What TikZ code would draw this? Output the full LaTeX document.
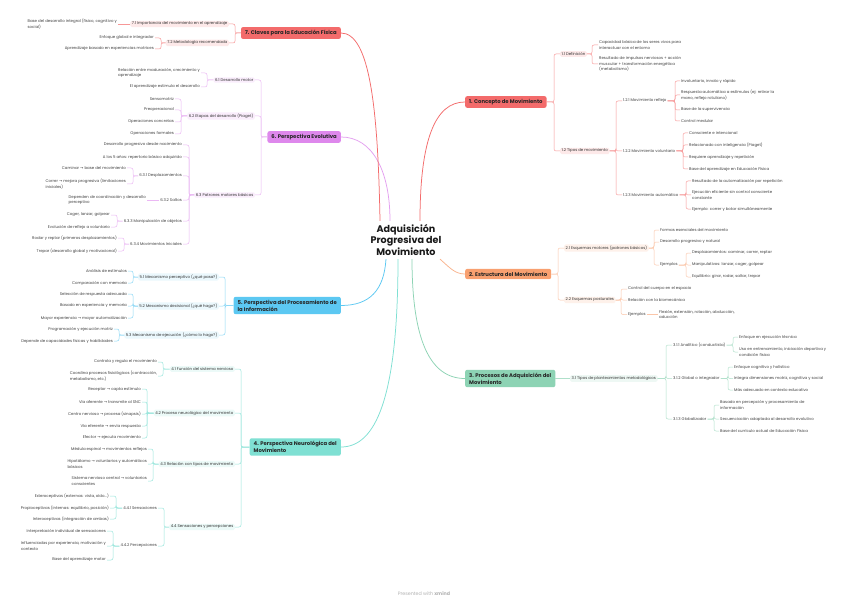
\documentclass[tikz,border=0pt]{standalone}
\usepackage{fontspec}
\setmainfont{Poppins}
\newfontfamily\arrowfont{DejaVu Sans}
\usetikzlibrary{calc}

\definecolor{cRed}{HTML}{F36B6B}
\definecolor{cOrange}{HTML}{F8A070}
\definecolor{cGreen}{HTML}{8DD3B4}
\definecolor{cTeal}{HTML}{7FE0D3}
\definecolor{cBlue}{HTML}{5CC8F2}
\definecolor{cPurple}{HTML}{DE88EC}
\newcommand{\leafsize}{\fontsize{3.9}{5.6}\selectfont}
\newcommand{\flecha}{{\arrowfont →}}

\begin{document}
\begin{tikzpicture}[
    x=1pt, y=-1pt,
    root/.style={align=center, font=\fontsize{9.6}{11.5}\selectfont\bfseries, text=black!90},
    topic/.style={rectangle, rounded corners=2pt, inner xsep=4pt, inner ysep=3pt,
                  align=left, font=\fontsize{5.3}{7}\selectfont\bfseries, text=black!85},
    subtopic/.style={rectangle, rounded corners=1.5pt, inner xsep=1.5pt, inner ysep=1.2pt,
                     font=\leafsize, text=black!80},
    leaf/.style={inner xsep=1pt, inner ysep=1pt, align=left, font=\leafsize, text=black!75},
    link/.style={line width=0.5pt, rounded corners=2pt},
    curve/.style={line width=0.75pt}
]
    \fill[white] (0,0) rectangle (848,604);
    \useasboundingbox (0,0) rectangle (848,604);

    % Central topic
    \node[root] (root) at (406,240) {Adquisición\\Progresiva del\\Movimiento};

    % Main topics
    \node[topic, fill=cRed, anchor=west]    (n1) at (465,102)   {1. Concepto de Movimiento};
    \node[topic, fill=cOrange, anchor=west] (n2) at (465,274)   {2. Estructura del Movimiento};
    \node[topic, fill=cGreen, anchor=west]  (n3) at (465,378.5) {3. Procesos de Adquisición del\\Movimiento};
    \node[topic, fill=cTeal, anchor=east]   (n4) at (341,447)   {4. Perspectiva Neurológica del\\Movimiento};
    \node[topic, fill=cBlue, anchor=east]   (n5) at (341,305.5) {5. Perspectiva del Procesamiento de\\la Información};
    \node[topic, fill=cPurple, anchor=east] (n6) at (341,137)   {6. Perspectiva Evolutiva};
    \node[topic, fill=cRed, anchor=east]    (n7) at (341,33)    {7. Claves para la Educación Física};

    % Curves from the centre
    \draw[curve, cRed]    ($(root.north)+(14,0)$)  .. controls (420,140) and (435,102) .. (n1.west);
    \draw[curve, cOrange!80] ($(root.south)+(34,0)$) .. controls (450,268) and (455,274) .. (n2.west);
    \draw[curve, cGreen]  ($(root.south)+(6,0)$)   .. controls (412,340) and (430,378.5) .. (n3.west);
    \draw[curve, cTeal]   ($(root.south)+(-8,0)$)  .. controls (398,400) and (375,447) .. (n4.east);
    \draw[curve, cBlue]   ($(root.south)+(-20,0)$) .. controls (384,290) and (370,305.5) .. (n5.east);
    \draw[curve, cPurple!80] ($(root.north)+(-16,0)$) .. controls (390,170) and (372,137) .. (n6.east);
    \draw[curve, cRed]    ($(root.north)+(-26,0)$) .. controls (378,110) and (370,33) .. (n7.east);

    % 1. Concepto de Movimiento
    \node[subtopic, fill=cRed!15, anchor=west] (n11) at (560,54)  {1.1 Definición};
    \node[subtopic, fill=cRed!15, anchor=west] (n12) at (560,151) {1.2 Tipos de movimiento};
    \node[leaf, anchor=west] (l111) at (598,45) {Capacidad básica de los seres vivos para\\interactuar con el entorno};
    \node[leaf, anchor=west] (l112) at (598,64) {Resultado de impulsos nerviosos + acción\\muscular + transformación energética\\(metabolismo)};
    \node[leaf, anchor=west] (t121) at (622,101) {1.2.1 Movimiento reflejo};
    \node[leaf, anchor=west] (t122) at (622,151) {1.2.2 Movimiento voluntario};
    \node[leaf, anchor=west] (t123) at (622,195) {1.2.3 Movimiento automático};
    \node[leaf, anchor=west] (l1211) at (680,81)  {Involuntario, innato y rápido};
    \node[leaf, anchor=west] (l1212) at (680,95)  {Respuesta automática a estímulos (ej: retirar la\\mano, reflejo rotuliano)};
    \node[leaf, anchor=west] (l1213) at (680,110) {Base de la supervivencia};
    \node[leaf, anchor=west] (l1214) at (680,121) {Control medular};
    \node[leaf, anchor=west] (l1221) at (688,133) {Consciente e intencional};
    \node[leaf, anchor=west] (l1222) at (688,145) {Relacionado con inteligencia (Piaget)};
    \node[leaf, anchor=west] (l1223) at (688,157) {Requiere aprendizaje y repetición};
    \node[leaf, anchor=west] (l1224) at (688,169) {Base del aprendizaje en Educación Física};
    \node[leaf, anchor=west] (l1231) at (691,181) {Resultado de la automatización por repetición};
    \node[leaf, anchor=west] (l1232) at (691,195) {Ejecución eficiente sin control consciente\\constante};
    \node[leaf, anchor=west] (l1233) at (691,209) {Ejemplo: correr y botar simultáneamente};

    \foreach \c in {n11,n12}
        \draw[link, cRed!70] (n1.east) -- ($(\c.west |- n1.east)+(-6,0)$) |- (\c.west);
    \foreach \c in {l111,l112}
        \draw[link, cRed!70] (n11.east) -- ($(\c.west |- n11.east)+(-6,0)$) |- (\c.west);
    \foreach \c in {t121,t122,t123}
        \draw[link, cRed!70] (n12.east) -- ($(\c.west |- n12.east)+(-6,0)$) |- (\c.west);
    \foreach \c in {l1211,l1212,l1213,l1214}
        \draw[link, cRed!70] (t121.east) -- ($(\c.west |- t121.east)+(-5,0)$) |- (\c.west);
    \foreach \c in {l1221,l1222,l1223,l1224}
        \draw[link, cRed!70] (t122.east) -- ($(\c.west |- t122.east)+(-5,0)$) |- (\c.west);
    \foreach \c in {l1231,l1232,l1233}
        \draw[link, cRed!70] (t123.east) -- ($(\c.west |- t123.east)+(-5,0)$) |- (\c.west);

    % 2. Estructura del Movimiento
    \node[subtopic, fill=cOrange!15, anchor=west] (n21) at (564,248) {2.1 Esquemas motores (patrones básicos)};
    \node[subtopic, fill=cOrange!15, anchor=west] (n22) at (564,300) {2.2 Esquemas posturales};
    \node[leaf, anchor=west] (l211) at (659,230) {Formas esenciales del movimiento};
    \node[leaf, anchor=west] (l212) at (659,242) {Desarrollo progresivo y natural};
    \node[leaf, anchor=west] (t213) at (659,265) {Ejemplos};
    \node[leaf, anchor=west] (l2131) at (691,253) {Desplazamientos: caminar, correr, reptar};
    \node[leaf, anchor=west] (l2132) at (691,265) {Manipulativos: lanzar, coger, golpear};
    \node[leaf, anchor=west] (l2133) at (691,277) {Equilibrio: girar, rodar, saltar, trepar};
    \node[leaf, anchor=west] (l221) at (627,289) {Control del cuerpo en el espacio};
    \node[leaf, anchor=west] (l222) at (627,300) {Relación con la biomecánica};
    \node[leaf, anchor=west] (t223) at (627,314.5) {Ejemplos};
    \node[leaf, anchor=west] (l2231) at (658,314.5) {Flexión, extensión, rotación, abducción,\\aducción};

    \foreach \c in {n21,n22}
        \draw[link, cOrange!60] (n2.east) -- ($(\c.west |- n2.east)+(-6,0)$) |- (\c.west);
    \foreach \c in {l211,l212,t213}
        \draw[link, cOrange!60] (n21.east) -- ($(\c.west |- n21.east)+(-5,0)$) |- (\c.west);
    \foreach \c in {l2131,l2132,l2133}
        \draw[link, cOrange!60] (t213.east) -- ($(\c.west |- t213.east)+(-5,0)$) |- (\c.west);
    \foreach \c in {l221,l222,t223}
        \draw[link, cOrange!60] (n22.east) -- ($(\c.west |- n22.east)+(-6,0)$) |- (\c.west);
    \draw[link, cOrange!60] (t223.east) -- (l2231.west);

    % 3. Procesos de Adquisicion
    \node[subtopic, fill=cGreen!15, anchor=west] (n31) at (570,378.5) {3.1 Tipos de planteamientos metodológicos};
    \node[leaf, anchor=west] (t311) at (672,345)   {3.1.1 Analítico (conductista)};
    \node[leaf, anchor=west] (t312) at (672,378.5) {3.1.2 Global o integrador};
    \node[leaf, anchor=west] (t313) at (672,419)   {3.1.3 Globalizador};
    \node[leaf, anchor=west] (l3111) at (738,337) {Enfoque en ejecución técnica};
    \node[leaf, anchor=west] (l3112) at (738,352) {Uso en entrenamiento, iniciación deportiva y\\condición física};
    \node[leaf, anchor=west] (l3121) at (733,367)   {Enfoque cognitivo y holístico};
    \node[leaf, anchor=west] (l3122) at (733,378.5) {Integra dimensiones motriz, cognitiva y social};
    \node[leaf, anchor=west] (l3123) at (733,390)   {Más adecuado en contexto educativo};
    \node[leaf, anchor=west] (l3131) at (719,405) {Basado en percepción y procesamiento de\\información};
    \node[leaf, anchor=west] (l3132) at (719,419) {Secuenciación adaptada al desarrollo evolutivo};
    \node[leaf, anchor=west] (l3133) at (719,431) {Base del currículo actual de Educación Física};

    \draw[link, cGreen!70] (n3.east) -- (n31.west);
    \foreach \c in {t311,t312,t313}
        \draw[link, cGreen!70] (n31.east) -- ($(\c.west |- n31.east)+(-6,0)$) |- (\c.west);
    \foreach \c in {l3111,l3112}
        \draw[link, cGreen!70] (t311.east) -- ($(\c.west |- t311.east)+(-5,0)$) |- (\c.west);
    \foreach \c in {l3121,l3122,l3123}
        \draw[link, cGreen!70] (t312.east) -- ($(\c.west |- t312.east)+(-5,0)$) |- (\c.west);
    \foreach \c in {l3131,l3132,l3133}
        \draw[link, cGreen!70] (t313.east) -- ($(\c.west |- t313.east)+(-5,0)$) |- (\c.west);

    % 4. Perspectiva Neurologica
    \node[subtopic, fill=cTeal!15, anchor=east] (n41) at (235,369) {4.1 Función del sistema nervioso};
    \node[subtopic, fill=cTeal!15, anchor=east] (n42) at (235,413) {4.2 Proceso neurológico del movimiento};
    \node[subtopic, fill=cTeal!15, anchor=east] (n43) at (235,464) {4.3 Relación con tipos de movimiento};
    \node[subtopic, fill=cTeal!15, anchor=east] (n44) at (235,527) {4.4 Sensaciones y percepciones};
    \node[leaf, anchor=east] (l411) at (158,362) {Controla y regula el movimiento};
    \node[leaf, anchor=east] (l412) at (158,376) {Coordina procesos fisiológicos (contracción,\\metabolismo, etc.)};
    \node[leaf, anchor=east] (l421) at (142,389) {Receptor \flecha{} capta estímulo};
    \node[leaf, anchor=east] (l422) at (142,402) {Vía aferente \flecha{} transmite al SNC};
    \node[leaf, anchor=east] (l423) at (142,414) {Centro nervioso \flecha{} procesa (sinapsis)};
    \node[leaf, anchor=east] (l424) at (142,426) {Vía eferente \flecha{} envía respuesta};
    \node[leaf, anchor=east] (l425) at (142,438) {Efector \flecha{} ejecuta movimiento};
    \node[leaf, anchor=east] (l431) at (148,449) {Médula espinal \flecha{} movimientos reflejos};
    \node[leaf, anchor=east] (l432) at (148,464) {Hipotálamo \flecha{} voluntarios y automáticos\\básicos};
    \node[leaf, anchor=east] (l433) at (148,481) {Sistema nervioso central \flecha{} voluntarios\\conscientes};
    \node[leaf, anchor=east] (t441) at (158,508) {4.4.1 Sensaciones};
    \node[leaf, anchor=east] (t442) at (158,546) {4.4.2 Percepciones};
    \node[leaf, anchor=east] (l4411) at (110,496) {Exteroceptivas (externas: vista, oído...)};
    \node[leaf, anchor=east] (l4412) at (110,508) {Propioceptivas (internas: equilibrio, posición)};
    \node[leaf, anchor=east] (l4413) at (110,519) {Interoceptivas (integración de ambas)};
    \node[leaf, anchor=east] (l4421) at (107,531) {Interpretación individual de sensaciones};
    \node[leaf, anchor=east] (l4422) at (107,546) {Influenciadas por experiencia, motivación y\\contexto};
    \node[leaf, anchor=east] (l4423) at (107,560) {Base del aprendizaje motor};

    \foreach \c in {n41,n42,n43,n44}
        \draw[link, cTeal!80] (n4.west) -- ($(\c.east |- n4.west)+(6,0)$) |- (\c.east);
    \foreach \c in {l411,l412}
        \draw[link, cTeal!80] (n41.west) -- ($(\c.east |- n41.west)+(5,0)$) |- (\c.east);
    \foreach \c in {l421,l422,l423,l424,l425}
        \draw[link, cTeal!80] (n42.west) -- ($(\c.east |- n42.west)+(5,0)$) |- (\c.east);
    \foreach \c in {l431,l432,l433}
        \draw[link, cTeal!80] (n43.west) -- ($(\c.east |- n43.west)+(5,0)$) |- (\c.east);
    \foreach \c in {t441,t442}
        \draw[link, cTeal!80] (n44.west) -- ($(\c.east |- n44.west)+(6,0)$) |- (\c.east);
    \foreach \c in {l4411,l4412,l4413}
        \draw[link, cTeal!80] (t441.west) -- ($(\c.east |- t441.west)+(6,0)$) |- (\c.east);
    \foreach \c in {l4421,l4422,l4423}
        \draw[link, cTeal!80] (t442.west) -- ($(\c.east |- t442.west)+(6,0)$) |- (\c.east);

    % 5. Perspectiva del Procesamiento
    \node[subtopic, fill=cBlue!12, anchor=east] (n51) at (219,277) {5.1 Mecanismo perceptivo (¿qué pasa?)};
    \node[subtopic, fill=cBlue!12, anchor=east] (n52) at (219,306) {5.2 Mecanismo decisional (¿qué hago?)};
    \node[subtopic, fill=cBlue!12, anchor=east] (n53) at (219,335) {5.3 Mecanismo de ejecución (¿cómo lo hago?)};
    \node[leaf, anchor=east] (l511) at (128,271) {Análisis de estímulos};
    \node[leaf, anchor=east] (l512) at (128,283) {Comparación con memoria};
    \node[leaf, anchor=east] (l521) at (128,294) {Selección de respuesta adecuada};
    \node[leaf, anchor=east] (l522) at (128,306) {Basado en experiencia y memoria};
    \node[leaf, anchor=east] (l523) at (128,318) {Mayor experiencia \flecha{} mayor automatización};
    \node[leaf, anchor=east] (l531) at (114,329) {Programación y ejecución motriz};
    \node[leaf, anchor=east] (l532) at (114,341) {Depende de capacidades físicas y habilidades};

    \foreach \c in {n51,n52,n53}
        \draw[link, cBlue!70] (n5.west) -- ($(\c.east |- n5.west)+(6,0)$) |- (\c.east);
    \foreach \c in {l511,l512}
        \draw[link, cBlue!70] (n51.west) -- ($(\c.east |- n51.west)+(5,0)$) |- (\c.east);
    \foreach \c in {l521,l522,l523}
        \draw[link, cBlue!70] (n52.west) -- ($(\c.east |- n52.west)+(5,0)$) |- (\c.east);
    \foreach \c in {l531,l532}
        \draw[link, cBlue!70] (n53.west) -- ($(\c.east |- n53.west)+(5,0)$) |- (\c.east);

    % 6. Perspectiva Evolutiva
    \node[subtopic, fill=cPurple!15, anchor=east] (n61) at (255,80)  {6.1 Desarrollo motor};
    \node[subtopic, fill=cPurple!15, anchor=east] (n62) at (255,116) {6.2 Etapas del desarrollo (Piaget)};
    \node[subtopic, fill=cPurple!15, anchor=east] (n63) at (255,195) {6.3 Patrones motores básicos};
    \node[leaf, anchor=east] (l611) at (201,73) {Relación entre maduración, crecimiento y\\aprendizaje};
    \node[leaf, anchor=east] (l612) at (201,87) {El aprendizaje estimula el desarrollo};
    \node[leaf, anchor=east] (l621) at (175,99)  {Sensomotriz};
    \node[leaf, anchor=east] (l622) at (175,110) {Preoperacional};
    \node[leaf, anchor=east] (l623) at (175,122) {Operaciones concretas};
    \node[leaf, anchor=east] (l624) at (175,134) {Operaciones formales};
    \node[leaf, anchor=east] (l631) at (183,145) {Desarrollo progresivo desde nacimiento};
    \node[leaf, anchor=east] (l632) at (183,157) {A los 5 años: repertorio básico adquirido};
    \node[leaf, anchor=east] (t631) at (183,176) {6.3.1 Desplazamientos};
    \node[leaf, anchor=east] (t632) at (183,200) {6.3.2 Saltos};
    \node[leaf, anchor=east] (t633) at (183,221) {6.3.3 Manipulación de objetos};
    \node[leaf, anchor=east] (t634) at (183,244) {6.3.4 Movimientos Iniciales};
    \node[leaf, anchor=east] (l6311) at (127,168) {Caminar \flecha{} base del movimiento};
    \node[leaf, anchor=east] (l6312) at (127,184) {Correr \flecha{} mejora progresiva (limitaciones\\iniciales)};
    \node[leaf, anchor=east] (l6321) at (147,200) {Dependen de coordinación y desarrollo\\perceptivo};
    \node[leaf, anchor=east] (l6331) at (111,215) {Coger, lanzar, golpear};
    \node[leaf, anchor=east] (l6332) at (111,227) {Evolución de reflejo a voluntario};
    \node[leaf, anchor=east] (l6341) at (118,238) {Rodar y reptar (primeros desplazamientos)};
    \node[leaf, anchor=east] (l6342) at (118,251) {Trepar (desarrollo global y motivacional)};

    \foreach \c in {n61,n62,n63}
        \draw[link, cPurple!60] (n6.west) -- ($(\c.east |- n6.west)+(6,0)$) |- (\c.east);
    \foreach \c in {l611,l612}
        \draw[link, cPurple!60] (n61.west) -- ($(\c.east |- n61.west)+(6,0)$) |- (\c.east);
    \foreach \c in {l621,l622,l623,l624}
        \draw[link, cPurple!60] (n62.west) -- ($(\c.east |- n62.west)+(6,0)$) |- (\c.east);
    \foreach \c in {l631,l632,t631,t632,t633,t634}
        \draw[link, cPurple!60] (n63.west) -- ($(\c.east |- n63.west)+(6,0)$) |- (\c.east);
    \foreach \c in {l6311,l6312}
        \draw[link, cPurple!60] (t631.west) -- ($(\c.east |- t631.west)+(6,0)$) |- (\c.east);
    \draw[link, cPurple!60] (t632.west) -- (l6321.east);
    \foreach \c in {l6331,l6332}
        \draw[link, cPurple!60] (t633.west) -- ($(\c.east |- t633.west)+(6,0)$) |- (\c.east);
    \foreach \c in {l6341,l6342}
        \draw[link, cPurple!60] (t634.west) -- ($(\c.east |- t634.west)+(6,0)$) |- (\c.east);

    % 7. Claves para la Educacion Fisica
    \node[subtopic, fill=cRed!15, anchor=east] (n71) at (229,24) {7.1 Importancia del movimiento en el aprendizaje};
    \node[subtopic, fill=cRed!15, anchor=east] (n72) at (229,43) {7.2 Metodología recomendada};
    \node[leaf, anchor=east] (l711) at (118,24) {Base del desarrollo integral (físico, cognitivo y\\social)};
    \node[leaf, anchor=east] (l721) at (155,38) {Enfoque global e integrador};
    \node[leaf, anchor=east] (l722) at (155,49) {Aprendizaje basado en experiencias motrices};

    \foreach \c in {n71,n72}
        \draw[link, cRed!70] (n7.west) -- ($(\c.east |- n7.west)+(6,0)$) |- (\c.east);
    \draw[link, cRed!70] (n71.west) -- (l711.east);
    \foreach \c in {l721,l722}
        \draw[link, cRed!70] (n72.west) -- ($(\c.east |- n72.west)+(6,0)$) |- (\c.east);

    % Footer
    \node[text=black!30, font=\fontsize{4.8}{6}\selectfont] (foot) at (424,594) {Presented with \textbf{xmind}};

\end{tikzpicture}
\end{document}
